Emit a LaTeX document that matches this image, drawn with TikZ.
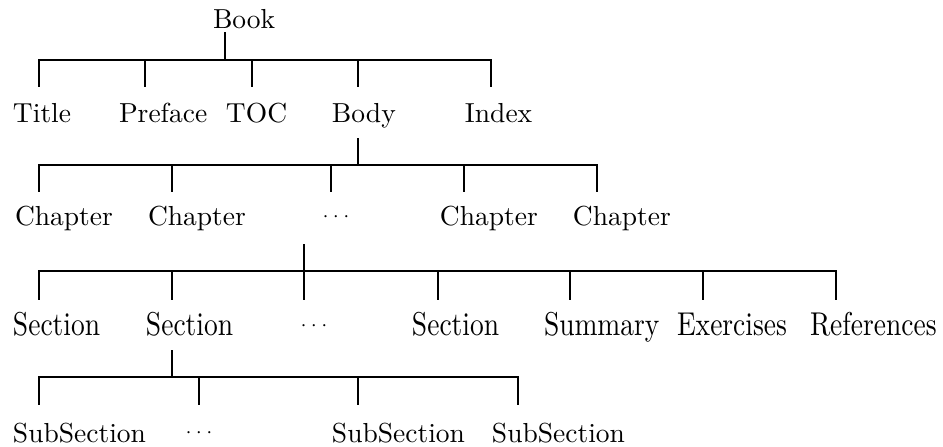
\documentclass[tikz,border=0pt]{standalone}
\begin{document}
\begin{tikzpicture}[x=0.3636pt,y=-0.3636pt,
  lbl/.style={anchor=base west,inner sep=0pt,outer sep=0pt},
  dotlbl/.style={anchor=base,inner sep=0pt,outer sep=0pt,font=\scriptsize},
  link/.style={line width=0.75pt,line cap=rect},
  thickbar/.style={line width=1pt,line cap=rect}]
\useasboundingbox (0,0) rectangle (943,447);

% ---- Book and its parts ----
\node[lbl] (book) at (213,29) {Book};
\coordinate (book-s) at (225,33);
\coordinate (book-j) at (225,60);
\foreach \n/\x/\t in {title/39/Title, preface/145/Preface, toc/252/TOC,
                      body/358/Body, index/491/Index} {
  \coordinate (\n-top) at (\x,60);
  \coordinate (\n-bot) at (\x,86);
  \node[lbl] (\n) at (\x-26,123) {\t};
  \draw[link] (\n-top) -- (\n-bot);
}
\draw[link] (book-s) -- (book-j);
\draw[link] (title-top) -- (index-top);

% ---- Body: chapters ----
\coordinate (body-s) at (358,139);
\coordinate (body-j) at (358,165);
\draw[link] (body-s) -- (body-j);
\foreach \n/\x in {ch1/39, ch2/172, chd/331, ch3/464, ch4/597} {
  \coordinate (\n-top) at (\x,165);
  \coordinate (\n-bot) at (\x,191);
  \draw[link] (\n-top) -- (\n-bot);
}
\draw[link] (ch1-top) -- (ch4-top);
\foreach \n/\x in {ch1/39, ch2/172, ch3/464, ch4/597}
  \node[lbl] (\n) at (\x-24,226) {Chapter};
\node[dotlbl] (chd) at (336,222) {$\cdots$};

% ---- Chapter: sections ----
\coordinate (chap-s) at (304,245);
\coordinate (chap-j) at (304,271);
\draw[link] (chap-s) -- (chap-j);
\foreach \n/\x in {s1/39, s2/172, sd/304, s3/438, summ/570, ex/703, ref/836} {
  \coordinate (\n-top) at (\x,271);
  \coordinate (\n-bot) at (\x,299);
  \draw[link] (\n-top) -- (\n-bot);
}
\draw[thickbar] (s1-top) -- (ref-top);
\foreach \n/\x/\t in {s1/39/Section, s2/172/Section, s3/438/Section,
                      summ/570/Summary, ex/703/Exercises, ref/836/References}
  \node[lbl] (\n) at (\x-26,336) {\scalebox{1}[1.2]{\t}};
\node[dotlbl] (sd) at (314,331) {$\cdots$};

% ---- Section: subsections ----
\coordinate (sec-s) at (172,351);
\coordinate (sec-j) at (172,377);
\draw[link] (sec-s) -- (sec-j);
\foreach \n/\x in {ss1/39, ssd/199, ss2/358, ss3/518} {
  \coordinate (\n-top) at (\x,377);
  \coordinate (\n-bot) at (\x,404);
  \draw[link] (\n-top) -- (\n-bot);
}
\draw[link] (ss1-top) -- (ss3-top);
\foreach \n/\x in {ss1/39, ss2/358, ss3/518}
  \node[lbl] (\n) at (\x-26,443) {SubSection};
\node[dotlbl] (ssd) at (199,438) {$\cdots$};
\end{tikzpicture}
\end{document}
